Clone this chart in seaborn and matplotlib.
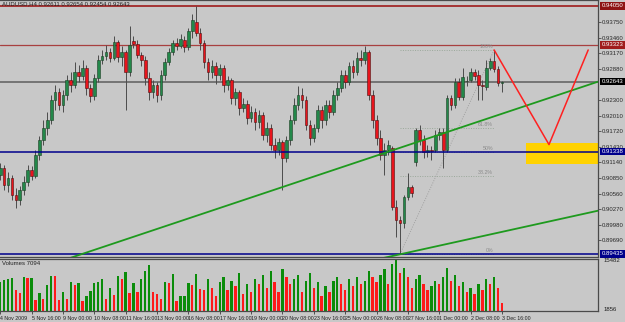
import numpy as np
import matplotlib
matplotlib.use("Agg")
import matplotlib.pyplot as plt
import matplotlib.transforms as mtransforms
import seaborn as sns

# ---------------- data ----------------
symbol_title = "AUDUSD,H4 0.92611 0.92654 0.92454 0.92643"

open_ = [0.9090, 0.9103, 0.9072, 0.9085, 0.9053, 0.9044, 0.9063, 0.9077, 0.9100, 0.9089,
         0.9128, 0.9156, 0.9178, 0.9193, 0.9230, 0.9245, 0.9221, 0.9239, 0.9267, 0.9258,
         0.9282, 0.9275, 0.9289, 0.9252, 0.9237, 0.9271, 0.9304, 0.9312, 0.9319, 0.9308,
         0.9338, 0.9310, 0.9319, 0.9282, 0.9340, 0.9334, 0.9314, 0.9304, 0.9271, 0.9245,
         0.9258, 0.9239, 0.9276, 0.9301, 0.9319, 0.9336, 0.9330, 0.9342, 0.9329, 0.9358,
         0.9375, 0.9355, 0.9336, 0.9301, 0.9282, 0.9293, 0.9276, 0.9289, 0.9258, 0.9267,
         0.9234, 0.9245, 0.9215, 0.9223, 0.9196, 0.9208, 0.9189, 0.9202, 0.9165, 0.9178,
         0.9146, 0.9137, 0.9152, 0.9122, 0.9156, 0.9193, 0.9221, 0.9239, 0.9230, 0.9183,
         0.9159, 0.9178, 0.9211, 0.9193, 0.9221, 0.9208, 0.9239, 0.9252, 0.9276, 0.9263,
         0.9293, 0.9282, 0.9308, 0.9304, 0.9319, 0.9239, 0.9193, 0.9159, 0.9128, 0.9137,
         0.9141, 0.9031, 0.9007, 0.9001, 0.9049, 0.9068, 0.9115, 0.9174, 0.9155, 0.9133,
         0.9137, 0.9137, 0.9165, 0.9170, 0.9137, 0.9234, 0.9221, 0.9263, 0.9235, 0.9265,
         0.9267, 0.9282, 0.9276, 0.9257, 0.9254, 0.9289, 0.9302, 0.9288, 0.92611]
high_ = [0.9112, 0.9109, 0.9096, 0.9090, 0.9066, 0.9070, 0.9089, 0.9109, 0.9107, 0.9137,
         0.9163, 0.9193, 0.9208, 0.9239, 0.9258, 0.9252, 0.9249, 0.9276, 0.9282, 0.9301,
         0.9295, 0.9304, 0.9295, 0.9260, 0.9278, 0.9314, 0.9323, 0.9332, 0.9327, 0.9349,
         0.9342, 0.9330, 0.9323, 0.9368, 0.9349, 0.9342, 0.9319, 0.9312, 0.9282, 0.9267,
         0.9263, 0.9286, 0.9308, 0.9327, 0.9342, 0.9345, 0.9353, 0.9349, 0.9364, 0.9390,
         0.9405, 0.9364, 0.9342, 0.9308, 0.9304, 0.9301, 0.9297, 0.9295, 0.9275, 0.9271,
         0.9252, 0.9249, 0.9234, 0.9230, 0.9219, 0.9215, 0.9211, 0.9208, 0.9189, 0.9185,
         0.9159, 0.9159, 0.9156, 0.9163, 0.9202, 0.9234, 0.9256, 0.9252, 0.9237, 0.9193,
         0.9185, 0.9221, 0.9219, 0.9230, 0.9230, 0.9249, 0.9263, 0.9286, 0.9286, 0.9301,
         0.9304, 0.9319, 0.9323, 0.9330, 0.9323, 0.9249, 0.9202, 0.9174, 0.9150, 0.9156,
         0.9144, 0.9044, 0.9014, 0.9053, 0.9094, 0.9072, 0.9178, 0.9183, 0.9165, 0.9146,
         0.9144, 0.9174, 0.9178, 0.9178, 0.9239, 0.9239, 0.9271, 0.9271, 0.9289, 0.9275,
         0.9289, 0.9288, 0.9286, 0.9267, 0.9304, 0.9308, 0.9323, 0.9293, 0.92654]
low_ = [0.9081, 0.9063, 0.9059, 0.9044, 0.9029, 0.9035, 0.9053, 0.9070, 0.9081, 0.9085,
        0.9118, 0.9146, 0.9165, 0.9185, 0.9211, 0.9211, 0.9208, 0.9230, 0.9245, 0.9252,
        0.9263, 0.9267, 0.9239, 0.9226, 0.9230, 0.9263, 0.9297, 0.9304, 0.9301, 0.9304,
        0.9301, 0.9293, 0.9211, 0.9275, 0.9327, 0.9308, 0.9293, 0.9258, 0.9230, 0.9234,
        0.9226, 0.9230, 0.9267, 0.9295, 0.9314, 0.9323, 0.9327, 0.9319, 0.9323, 0.9345,
        0.9349, 0.9323, 0.9289, 0.9267, 0.9271, 0.9260, 0.9267, 0.9245, 0.9249, 0.9223,
        0.9221, 0.9202, 0.9208, 0.9185, 0.9189, 0.9174, 0.9178, 0.9156, 0.9152, 0.9137,
        0.9122, 0.9128, 0.9063, 0.9115, 0.9146, 0.9185, 0.9211, 0.9215, 0.9174, 0.9146,
        0.9152, 0.9170, 0.9178, 0.9183, 0.9196, 0.9202, 0.9230, 0.9245, 0.9252, 0.9258,
        0.9271, 0.9276, 0.9293, 0.9297, 0.9230, 0.9178, 0.9146, 0.9118, 0.9090, 0.9128,
        0.9025, 0.8975, 0.89435, 0.8992, 0.9044, 0.9049, 0.9107, 0.9146, 0.9122, 0.9124,
        0.9118, 0.9133, 0.9155, 0.9103, 0.9133, 0.9211, 0.9215, 0.9230, 0.9230, 0.9256,
        0.9263, 0.9267, 0.9230, 0.9230, 0.9249, 0.9286, 0.9282, 0.9256, 0.92454]
close_ = [0.9103, 0.9072, 0.9085, 0.9053, 0.9044, 0.9063, 0.9077, 0.9100, 0.9089, 0.9128,
          0.9156, 0.9178, 0.9193, 0.9230, 0.9245, 0.9221, 0.9239, 0.9267, 0.9258, 0.9282,
          0.9275, 0.9289, 0.9252, 0.9237, 0.9271, 0.9304, 0.9312, 0.9319, 0.9308, 0.9338,
          0.9310, 0.9319, 0.9282, 0.9332, 0.9334, 0.9314, 0.9304, 0.9271, 0.9245, 0.9258,
          0.9239, 0.9276, 0.9301, 0.9319, 0.9336, 0.9330, 0.9343, 0.9329, 0.9358, 0.9379,
          0.9355, 0.9336, 0.9301, 0.9282, 0.9293, 0.9276, 0.9289, 0.9258, 0.9267, 0.9234,
          0.9245, 0.9215, 0.9223, 0.9196, 0.9208, 0.9189, 0.9202, 0.9165, 0.9178, 0.9146,
          0.9137, 0.9152, 0.9122, 0.9156, 0.9193, 0.9221, 0.9239, 0.9230, 0.9183, 0.9159,
          0.9178, 0.9211, 0.9193, 0.9221, 0.9208, 0.9239, 0.9252, 0.9276, 0.9263, 0.9293,
          0.9282, 0.9308, 0.9304, 0.9319, 0.9239, 0.9193, 0.9159, 0.9128, 0.9137, 0.9146,
          0.9031, 0.9007, 0.9001, 0.9049, 0.9068, 0.9057, 0.9174, 0.9155, 0.9133, 0.9137,
          0.9135, 0.9165, 0.9170, 0.9137, 0.9234, 0.9221, 0.9263, 0.9235, 0.9273, 0.9266,
          0.9282, 0.9275, 0.9258, 0.9256, 0.9289, 0.9302, 0.9288, 0.9262, 0.92643]
volume = [9500, 10196, 10474, 10752, 7416, 6582, 11030, 10752, 10800, 4914,
          6582, 5192, 8806, 11308, 11200, 4914, 6860, 5192, 9640, 8806,
          9362, 4636, 5748, 7138, 9362, 9640, 10474, 5192, 7972, 6026,
          11308, 10474, 12420, 6582, 9362, 6860, 10474, 12698, 14088, 6860,
          6304, 5192, 9640, 9362, 11864, 4636, 5748, 5800, 9362, 8806,
          11864, 7694, 7600, 10500, 8000, 6000, 9500, 11000, 7500, 10000,
          8500, 12000, 6500, 9000, 7000, 10500, 9000, 11500, 8000, 12500,
          9500, 7000, 13000, 11000, 9000, 10500, 11500, 7000, 10000, 12000,
          8000, 9500, 6000, 8500, 7000, 10000, 11000, 9000, 7500, 10500,
          8500, 11000, 9000, 10000, 12500, 11000, 9500, 11500, 13000, 9000,
          14500, 15482, 12000, 13500, 11000, 8000, 10500, 11500, 9000, 7500,
          8500, 10000, 9000, 11000, 13500, 10000, 11500, 8500, 9500, 7000,
          8000, 6500, 9000, 7500, 10500, 9000, 11000, 8000, 4000]

date_ticks = [0, 8, 16, 24, 32, 40, 48, 56, 64, 72, 80, 88, 96, 104, 112, 120, 128]
date_labels = ["4 Nov 2009", "5 Nov 16:00", "9 Nov 00:00", "10 Nov 08:00", "11 Nov 16:00",
               "13 Nov 00:00", "16 Nov 08:00", "17 Nov 16:00", "19 Nov 00:00", "20 Nov 08:00",
               "23 Nov 16:00", "25 Nov 00:00", "26 Nov 08:00", "27 Nov 16:00", "1 Dec 00:00",
               "2 Dec 08:00", "3 Dec 16:00"]
price_ticks = [0.93750, 0.93460, 0.93170, 0.92880, 0.92300, 0.92010, 0.91720, 0.91430,
               0.91140, 0.90850, 0.90560, 0.90270, 0.89980, 0.89690]

red_top_level = 0.94050
red_level = 0.93323
current_level = 0.92643
blue_mid_level = 0.91338
blue_low_level = 0.89435

trend1_x = [17.8, 152.5]
trend1_y = [0.8936, 0.9264]
trend2_x = [97.7, 152.5]
trend2_y = [0.8936, 0.9024]
zigzag_x = [126, 140, 150]
zigzag_y = [0.9323, 0.9147, 0.9323]
zone_x = [134.1, 152.5]
zone_y = [0.9111, 0.9150]
fib_start, fib_end = 102, 126
fib_low, fib_high = 0.89435, 0.9323
fib_levels = [0.0, 0.382, 0.5, 0.618, 1.0]
fib_labels = ["0%", "38.2%", "50%", "61.8%", "100%"]
vol_label = "Volumes 7094"
vol_max, vol_min = 15482, 1856

# ---------------- drawing ----------------
sns.set_theme(style="white")
plt.rcParams["font.family"] = ["Liberation Sans", "DejaVu Sans"]
FS = 4.3
FSX = 3.8

BG = "#C8C8C8"
fig = plt.figure(figsize=(6.25, 3.22), dpi=100, facecolor=BG)
W, H = 625, 322
ax = fig.add_axes([0, 1 - 257 / H, 598 / W, 257 / H])
axv = fig.add_axes([0, 1 - 311 / H, 598 / W, 52 / H])
for a in (ax, axv):
    a.set_facecolor(BG)
    for s in a.spines.values():
        s.set_color("#4A4A4A")
        s.set_linewidth(0.9)
    a.spines["left"].set_visible(False)

o = np.array(open_); c = np.array(close_); hi = np.array(high_); lo = np.array(low_)
idx = np.arange(len(c))
up = c >= o

ax.fill_between(zone_x, zone_y[0], zone_y[1], color="#FFD200", lw=0, zorder=1)

ax.axhline(red_top_level, color="#9E1B1B", lw=1.2, zorder=2)
ax.axhline(red_level, color="#A84040", lw=0.9, zorder=2)
ax.axhline(current_level, color="#6E6E6E", lw=1.3, zorder=2)
ax.axhline(blue_mid_level, color="#00008B", lw=1.1, zorder=4)
ax.axhline(blue_low_level, color="#00008B", lw=1.1, zorder=4)

for lev, lab in zip(fib_levels, fib_labels):
    p = fib_low + lev * (fib_high - fib_low)
    ax.plot([fib_start, fib_end], [p, p], color="#9AA89A", lw=0.7, ls=(0, (1, 1.5)), zorder=2)
    ax.text(fib_end - 0.3, p + 0.0002, lab, fontsize=3.8, color="#8A8A8A", ha="right", va="bottom", zorder=2)
ax.plot([fib_start, fib_end], [fib_low, fib_high], color="#A0A0A0", lw=0.7, ls=(0, (1, 1.5)), zorder=2)

ax.vlines(idx, lo, hi, color="#4C4C4C", lw=0.7, zorder=3)
bottom = np.minimum(o, c)
height = np.maximum(np.abs(c - o), 0.00005)
ax.bar(idx[up], height[up], bottom=bottom[up], width=0.7, color="#23884A",
       edgecolor="#1D3D25", linewidth=0.4, zorder=3)
ax.bar(idx[~up], height[~up], bottom=bottom[~up], width=0.7, color="#E8141C",
       edgecolor="#4A1010", linewidth=0.4, zorder=3)

sns.lineplot(x=trend1_x, y=trend1_y, ax=ax, color="#1E9A1E", lw=1.3, zorder=5)
sns.lineplot(x=trend2_x, y=trend2_y, ax=ax, color="#1E9A1E", lw=1.3, zorder=5)
sns.lineplot(x=zigzag_x, y=zigzag_y, ax=ax, color="#FF2020", lw=1.1, zorder=5, sort=False)

ax.set_xlim(-0.05, 152.5)
ax.set_ylim(0.89379, 0.94159)
ax.set_xticks([])
ax.yaxis.tick_right()
ax.set_yticks(price_ticks)
ax.set_yticklabels([f"{v:.5f}" for v in price_ticks])
ax.tick_params(axis="y", right=True, length=2, width=0.6, color="#4A4A4A", labelsize=FS,
               labelcolor="#2A2A2A", pad=0.8)
ax.set_xlabel(""); ax.set_ylabel("")

trans = mtransforms.blended_transform_factory(ax.transAxes, ax.transData)
for val, fc in [(red_top_level, "#8E1414"), (red_level, "#A01C1C"), (current_level, "#000000"),
                (blue_mid_level, "#00008B"), (blue_low_level, "#00008B")]:
    ax.text(1.006, val, f"{val:.5f}", transform=trans, ha="left", va="center", fontsize=FS,
            color="white", clip_on=False, zorder=10,
            bbox=dict(boxstyle="square,pad=0.2", fc=fc, ec="none"))

ax.text(0.004, 0.995, symbol_title, transform=ax.transAxes, fontsize=FS, color="#202020",
        ha="left", va="top")

vol = np.array(volume)
direction = ["up"] + ["up" if vol[i] >= vol[i - 1] else "down" for i in range(1, len(vol))]
sns.barplot(x=idx, y=vol, hue=direction, palette={"up": "#0A8C0A", "down": "#FF1A1A"},
            native_scale=True, width=0.6, dodge=False, errorbar=None, legend=False,
            saturation=1, linewidth=0, ax=axv)
axv.set_xlim(-0.05, 152.5)
axv.set_ylim(vol_min, vol_max + 300)
axv.set_yticks([])
axv.set_ylabel(""); axv.set_xlabel("")
axv.text(0.004, 0.96, vol_label, transform=axv.transAxes, fontsize=FS, color="#202020",
         ha="left", va="top")
axv.text(1.01, 0.97, f"{vol_max}", transform=axv.transAxes, fontsize=FS, color="#202020",
         ha="left", va="center", clip_on=False)
axv.text(1.01, 0.02, f"{vol_min}", transform=axv.transAxes, fontsize=FS, color="#202020",
         ha="left", va="center", clip_on=False)
axv.set_xticks(date_ticks)
axv.set_xticklabels(date_labels, ha="left")
axv.tick_params(axis="x", bottom=True, length=2.5, width=0.6, color="#3A3A3A",
                labelsize=FSX, labelcolor="#202020", pad=0.8)

fig.savefig("out.png", dpi=100, facecolor=BG)
